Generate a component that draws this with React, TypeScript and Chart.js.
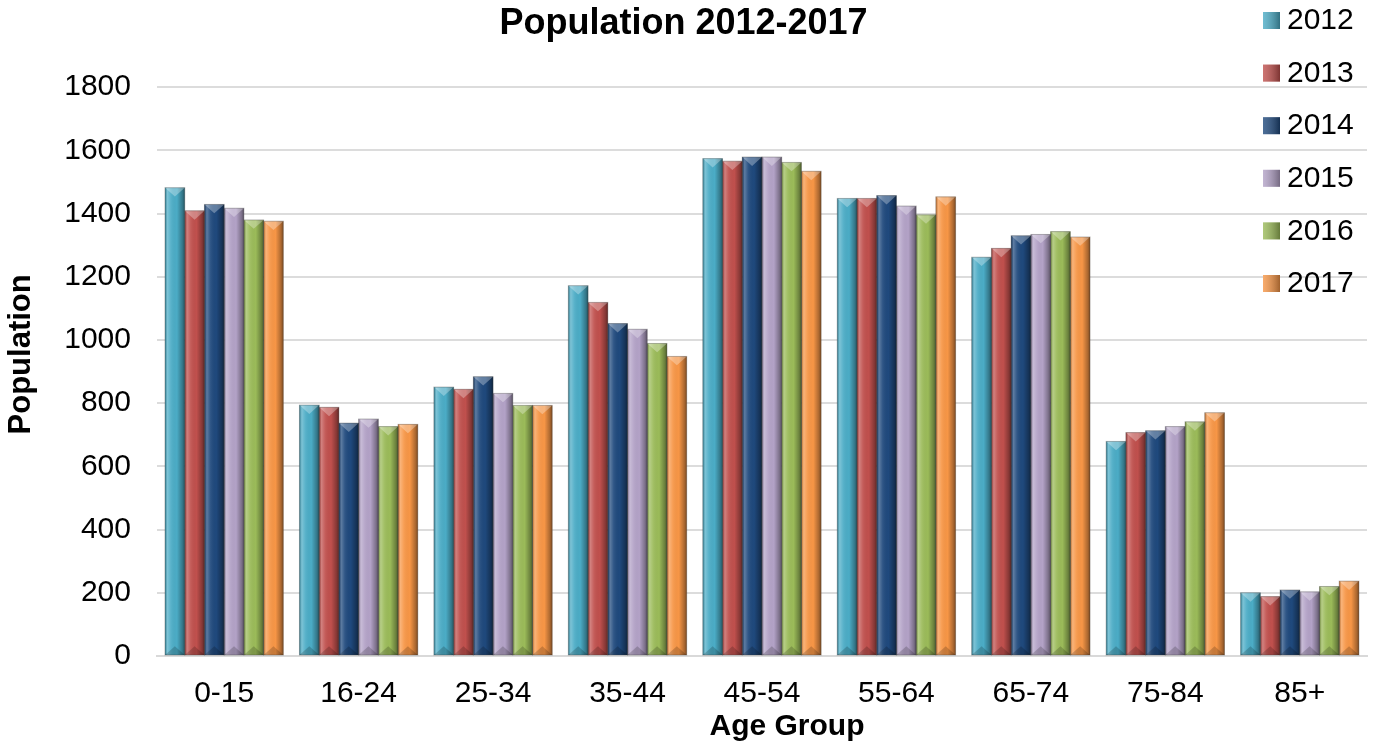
import { useEffect, useRef } from 'react'
import { Chart, registerables, Plugin } from 'chart.js'

Chart.register(...registerables)

const ageGroups = ['0-15', '16-24', '25-34', '35-44', '45-54', '55-64', '65-74', '75-84', '85+']
const years = ['2012', '2013', '2014', '2015', '2016', '2017']

const pop2012 = [1482, 794, 851, 1172, 1574, 1448, 1262, 679, 200]
const pop2013 = [1409, 787, 844, 1119, 1566, 1448, 1290, 707, 188]
const pop2014 = [1429, 737, 884, 1052, 1579, 1457, 1330, 713, 209]
const pop2015 = [1417, 750, 831, 1034, 1579, 1424, 1334, 726, 203]
const pop2016 = [1380, 726, 793, 989, 1562, 1396, 1343, 741, 220]
const pop2017 = [1376, 733, 793, 948, 1534, 1453, 1326, 770, 237]

const series = [pop2012, pop2013, pop2014, pop2015, pop2016, pop2017]
const colors = ['#4BACC6', '#C0504D', '#1F497D', '#B3A2C7', '#9BBB59', '#F79646']

const FONT = "'Liberation Sans', Arial, sans-serif"

// bevel look: side shading plus a little pyramid on top of every bar
const bevelPlugin: Plugin<'bar'> = {
  id: 'bevel',
  afterDatasetsDraw(chart) {
    const ctx = chart.ctx
    chart.data.datasets.forEach((_, di) => {
      const meta = chart.getDatasetMeta(di)
      meta.data.forEach((el: any) => {
        const { x, y, base, width } = el.getProps(['x', 'y', 'base', 'width'], true)
        const l = x - width / 2
        const r = x + width / 2
        const g = ctx.createLinearGradient(l, 0, r, 0)
        g.addColorStop(0, 'rgba(0,0,0,0.25)')
        g.addColorStop(0.12, 'rgba(255,255,255,0.28)')
        g.addColorStop(0.3, 'rgba(255,255,255,0.08)')
        g.addColorStop(0.6, 'rgba(0,0,0,0)')
        g.addColorStop(0.88, 'rgba(0,0,0,0.3)')
        g.addColorStop(1, 'rgba(0,0,0,0.5)')
        ctx.save()
        ctx.fillStyle = g
        ctx.fillRect(l, y, width, base - y)
        const h = Math.min(width * 0.45, (base - y) / 2)
        ctx.beginPath()
        ctx.moveTo(l, y)
        ctx.lineTo(r, y)
        ctx.lineTo(x, y + h)
        ctx.closePath()
        ctx.fillStyle = 'rgba(255,255,255,0.3)'
        ctx.fill()
        ctx.beginPath()
        ctx.moveTo(l, base)
        ctx.lineTo(r, base)
        ctx.lineTo(x, base - h)
        ctx.closePath()
        ctx.fillStyle = 'rgba(0,0,0,0.18)'
        ctx.fill()
        ctx.strokeStyle = 'rgba(60,60,60,0.35)'
        ctx.lineWidth = 1
        ctx.strokeRect(l, y, width, base - y)
        ctx.restore()
      })
    })
  },
}

// legend in the top right corner, over the plot like the original
const sideLegend: Plugin<'bar'> = {
  id: 'sideLegend',
  afterDraw(chart) {
    const ctx = chart.ctx
    const sx = chart.chartArea.right - 104
    ctx.save()
    ctx.font = `30px ${FONT}`
    ctx.textBaseline = 'middle'
    ctx.textAlign = 'left'
    chart.data.datasets.forEach((ds, i) => {
      const cy = 20 + i * 52.6
      ctx.fillStyle = ds.backgroundColor as string
      ctx.fillRect(sx, cy - 8, 17, 17)
      const g = ctx.createLinearGradient(sx, 0, sx + 17, 0)
      g.addColorStop(0, 'rgba(255,255,255,0.2)')
      g.addColorStop(1, 'rgba(0,0,0,0.35)')
      ctx.fillStyle = g
      ctx.fillRect(sx, cy - 8, 17, 17)
      ctx.fillStyle = '#000'
      ctx.fillText(ds.label ?? '', sx + 24, cy + 1)
    })
    ctx.restore()
  },
}

export default function App() {
  const canvasRef = useRef<HTMLCanvasElement>(null)

  useEffect(() => {
    document.body.style.margin = '0'
    if (!canvasRef.current) return
    const chart = new Chart(canvasRef.current, {
      type: 'bar',
      data: {
        labels: ageGroups,
        datasets: years.map((yr, i) => ({
          label: yr,
          data: series[i],
          backgroundColor: colors[i],
          borderWidth: 0,
          barPercentage: 1,
          categoryPercentage: 0.88,
        })),
      },
      options: {
        responsive: true,
        maintainAspectRatio: false,
        animation: false,
        layout: { padding: { left: 0, right: 12, top: 0, bottom: 0 } },
        plugins: {
          legend: { display: false },
          tooltip: { enabled: false },
          title: {
            display: true,
            text: 'Population 2012-2017',
            color: '#000',
            font: { family: FONT, size: 36, weight: 'bold' },
            padding: { top: 2, bottom: 42 },
          },
        },
        scales: {
          x: {
            grid: { display: false, drawTicks: false },
            border: { display: true, color: '#d9d9d9', width: 2 },
            ticks: { color: '#000', font: { family: FONT, size: 30 }, padding: 20 },
            title: {
              display: true,
              // leading spaces push the title a little right of centre, as in the original
              text: '      Age Group',
              color: '#000',
              font: { family: FONT, size: 30, weight: 'bold' },
              padding: { top: -23, bottom: 6 },
            },
          },
          y: {
            min: 0,
            max: 1800,
            grid: { color: '#dcdcdc', lineWidth: 2, drawTicks: false },
            border: { display: false },
            ticks: {
              stepSize: 200,
              color: '#000',
              font: { family: FONT, size: 30 },
              padding: 26,
              callback: (v: number | string) => String(v),
            },
            title: {
              display: true,
              text: '    Population',
              color: '#000',
              font: { family: FONT, size: 31, weight: 'bold' },
              padding: { top: 3, bottom: -2 },
            },
          },
        },
      },
      plugins: [bevelPlugin, sideLegend],
    })
    return () => chart.destroy()
  }, [])

  return (
    <div style={{ position: 'relative', width: '1379px', height: '751px' }}>
      <canvas ref={canvasRef} />
    </div>
  )
}
